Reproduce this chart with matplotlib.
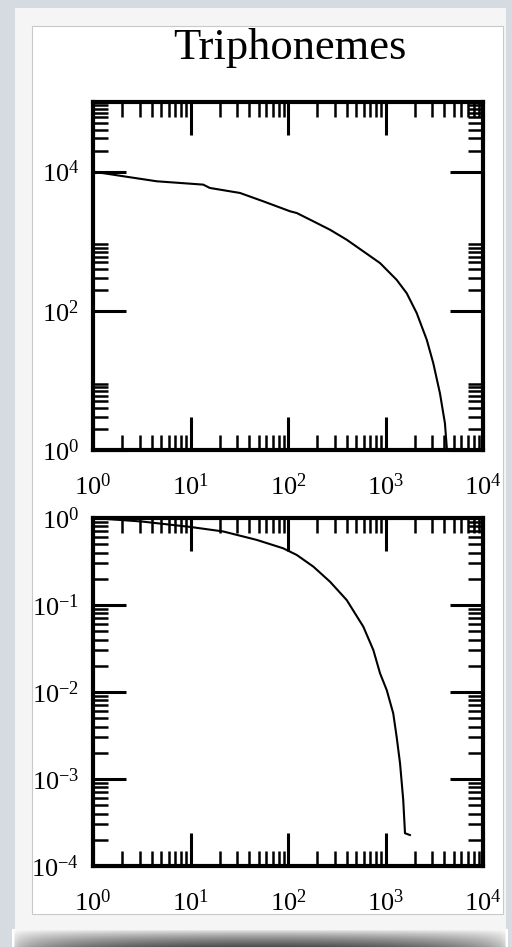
import numpy as np
import matplotlib
matplotlib.use("Agg")
import matplotlib.pyplot as plt
from matplotlib.patches import Rectangle
from matplotlib.ticker import LogLocator, NullFormatter

plt.rcParams['font.family'] = ['Liberation Serif', 'DejaVu Serif']
plt.rcParams['mathtext.fontset'] = 'custom'
plt.rcParams['mathtext.rm'] = 'Liberation Serif'
plt.rcParams['mathtext.it'] = 'Liberation Serif:italic'
plt.rcParams['axes.unicode_minus'] = False

# rank vs. number of occurrences
rank_freq = [1, 2.05, 4.5, 13.5, 15.8, 32.2, 55.8, 105, 123, 182, 270, 400, 592, 879,
             1300, 1650, 2090, 2650, 3090, 3620, 4070, 4270]
freq = [10000, 8570, 7260, 6500, 5820, 4930, 3740, 2690, 2540, 1930, 1460, 1050, 715, 485,
        279, 179, 92.7, 38.3, 17.7, 6.5, 2.42, 1]

# rank vs. cumulative fraction
rank_cum = [1, 3.2, 9.9, 21.7, 47.8, 89, 123, 182, 270, 400, 592, 750, 879, 1030,
            1200, 1300, 1410, 1520, 1585, 1780]
cum = [1, 0.91, 0.79, 0.70, 0.56, 0.449, 0.376, 0.276, 0.185, 0.114, 0.0564, 0.0304,
       0.0164, 0.0105, 0.00569, 0.00307, 0.00151, 0.000574, 0.000238, 0.000227]

title = "Triphonemes"

W, H = 512, 947
fig = plt.figure(figsize=(W / 100, H / 100), dpi=100)
fig.patch.set_facecolor('#d6dbe1')


def px_rect(x0, y0, x1, y1, **kw):
    # rectangle given in pixel coords (origin top-left)
    return Rectangle((x0 / W, 1 - y1 / H), (x1 - x0) / W, (y1 - y0) / H,
                     transform=fig.transFigure, **kw)


# shadow under the card
shadow = fig.add_axes([12 / W, 0, 496 / W, 18 / H], zorder=-20)
grad = np.linspace(0, 1, 50)[:, None] * np.ones((1, 200))
edge = np.sin(np.linspace(0, np.pi, 200))[None, :] ** 0.3
shadow.imshow(1 - 0.7 * grad ** 0.7 * edge, cmap='gray', vmin=0, vmax=1,
              aspect='auto', extent=[0, 1, 0, 1], origin='upper')
shadow.axis('off')

fig.patches.append(px_rect(15, 8, 506, 930, facecolor='#f5f5f5', edgecolor='none', zorder=-10))
fig.patches.append(px_rect(32, 26, 503, 914, facecolor='white', edgecolor='#c9c9c9', lw=0.8, zorder=-9))

fig.text(290 / W, 1 - 48 / H, title, ha='center', va='center', fontsize=32)


def style(ax, ylim, ybase):
    ax.set_xscale('log')
    ax.set_yscale('log')
    ax.set_xlim(1, 1e4)
    ax.set_ylim(*ylim)
    for s in ax.spines.values():
        s.set_linewidth(3)
    ax.xaxis.set_major_locator(LogLocator(base=10, numticks=20))
    ax.xaxis.set_minor_locator(LogLocator(base=10, subs=np.arange(2, 10), numticks=20))
    # y labels every `ybase` decades, minor ticks only right above each major
    ax.yaxis.set_major_locator(LogLocator(base=ybase, numticks=20))
    ax.yaxis.set_minor_locator(LogLocator(base=ybase, subs=np.arange(2, 10), numticks=20))
    ax.xaxis.set_minor_formatter(NullFormatter())
    ax.yaxis.set_minor_formatter(NullFormatter())
    ax.tick_params(which='both', direction='in', top=True, right=True, labelsize=19)
    ax.tick_params(which='major', length=24, width=2.2)
    ax.tick_params(which='minor', length=11, width=1.8)
    ax.tick_params(axis='x', pad=17)
    ax.tick_params(axis='y', pad=10)


ax1 = fig.add_axes([93 / W, 1 - 450 / H, 390 / W, 348 / H])
ax1.plot(rank_freq, freq, color='black', lw=1.5)
style(ax1, (1, 1e5), 100)

ax2 = fig.add_axes([93 / W, 1 - 866 / H, 390 / W, 348 / H])
ax2.plot(rank_cum, cum, color='black', lw=1.5)
style(ax2, (1e-4, 1), 10)

fig.savefig('out.png', dpi=100)
